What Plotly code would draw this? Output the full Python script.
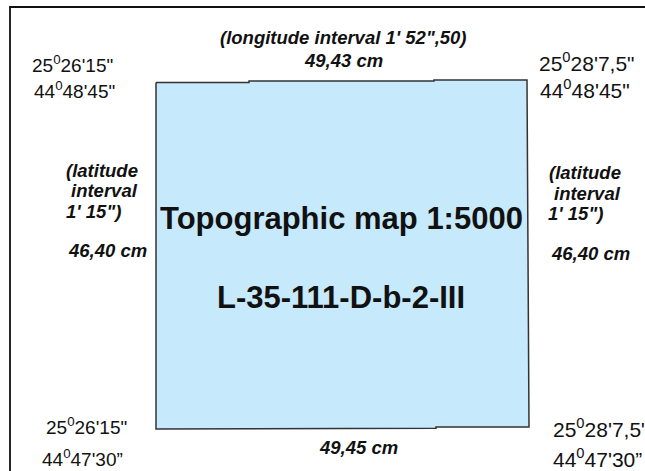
import plotly.graph_objects as go

W, H = 645, 471

# Map sheet outline (page-pixel coordinates)
box_x = [156, 249, 249, 434, 434, 527, 529, 436, 436, 250, 250, 156, 156]
box_y = [82.5, 82.5, 81, 81, 80, 80, 427, 427, 428.3, 428.3, 429, 429, 82.5]

# Outer frame (top and left edges only visible)
frame_x = [645, 10, 10]
frame_y = [7, 7, 471]

# Corner coordinate labels: text, x (left), y (middle), font size
corner_text = ["25<sup>0</sup>26'15\"", "44<sup>0</sup>48'45\"",
               "25<sup>0</sup>28'7,5\"", "44<sup>0</sup>48'45\"",
               "25<sup>0</sup>26'15\"", "44<sup>0</sup>47'30”",
               "25<sup>0</sup>28'7,5\"", "44<sup>0</sup>47'30”"]
corner_x = [30, 32, 537, 538, 44, 40, 551, 551]
corner_y = [64, 90, 62, 89, 426, 458, 428, 458]
corner_size = [19, 19, 21, 21, 19, 19, 21, 21]

# Interval / size labels (bold italic)
top_text = ["(longitude interval 1' 52\",50)", "49,43 cm"]
top_x = [343, 343]
top_y = [37, 60]
bottom_text = ["49,45 cm"]
bottom_x = [358]
bottom_y = [447]

left_text = ["(latitude", "interval", "1' 15\")", "46,40 cm"]
left_x = [64, 69, 64, 66]
left_y = [170, 190, 211, 250]
right_text = ["(latitude", "interval", "1' 15\")", "46,40 cm"]
right_x = [547, 552, 546, 549]
right_y = [172, 193, 213, 253]

title_text = ["Topographic map 1:5000", "L-35-111-D-b-2-III"]
title_x = [341, 341]
title_y = [218, 297]

FONT = "Liberation Sans, Arial, sans-serif"

fig = go.Figure()
fig.add_trace(go.Scatter(x=box_x, y=box_y, mode="lines", fill="toself",
                         fillcolor="#c7e9fc", line=dict(color="#333333", width=1.5),
                         hoverinfo="skip", showlegend=False))
fig.add_trace(go.Scatter(x=frame_x, y=frame_y, mode="lines",
                         line=dict(color="#111111", width=1.8),
                         hoverinfo="skip", showlegend=False))

ann = []
for t, x, y, s in zip(corner_text, corner_x, corner_y, corner_size):
    ann.append(dict(text=t, x=x, y=y, xanchor="left", yanchor="middle",
                    font=dict(family=FONT, size=s, color="#111111")))
for texts, xs, ys, anchor in [(top_text, top_x, top_y, "center"),
                              (bottom_text, bottom_x, bottom_y, "center"),
                              (left_text, left_x, left_y, "left"),
                              (right_text, right_x, right_y, "left")]:
    for t, x, y in zip(texts, xs, ys):
        ann.append(dict(text="<b><i>" + t + "</i></b>", x=x, y=y, xanchor=anchor,
                        yanchor="middle",
                        font=dict(family=FONT, size=18.5, color="#111111")))
for t, x, y in zip(title_text, title_x, title_y):
    ann.append(dict(text="<b>" + t + "</b>", x=x, y=y, xanchor="center", yanchor="middle",
                    font=dict(family=FONT, size=31, color="#111111")))
for a in ann:
    a.update(xref="x", yref="y", showarrow=False)

fig.update_layout(
    width=W, height=H, margin=dict(l=0, r=0, t=0, b=0),
    paper_bgcolor="white", plot_bgcolor="white",
    xaxis=dict(range=[0, W], visible=False, fixedrange=True),
    yaxis=dict(range=[H, 0], visible=False, fixedrange=True),
    annotations=ann,
)
fig.write_html("out.html", config={"displayModeBar": False, "staticPlot": True},
               post_script="document.body.style.margin='0';document.body.style.overflow='hidden';")
